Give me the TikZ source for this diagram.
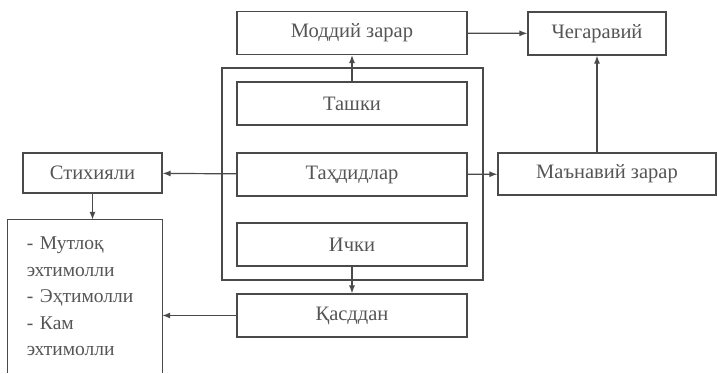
\documentclass[tikz,border=0pt]{standalone}
\usepackage{fontspec}
\setmainfont{Liberation Serif}
\usetikzlibrary{arrows.meta}
\definecolor{chiziq}{HTML}{4A4A4A}
\definecolor{matn}{HTML}{555555}
\tikzset{
  blok/.style={draw=chiziq, line width=1.2pt, text=matn, minimum height=43pt, inner sep=0pt,
    font=\fontsize{20.5}{24}\selectfont},
  strelka/.style={draw=chiziq, line width=1.2pt, -{Latex[length=8pt,width=6pt]}}
}
\begin{document}
\begin{tikzpicture}[x=1pt,y=-1pt]
    \useasboundingbox (0,0) rectangle (718,373);

    % tashqi ramka
    \node[draw=chiziq, line width=1.2pt, minimum width=261pt, minimum height=212pt] (ramka) at (352.5,174) {};

    % bloklar
    \node[blok, minimum width=230pt] (moddiy) at (352,33) {Моддий зарар};
    \node[blok, minimum width=138pt] (chegara) at (597,33.5) {Чегаравий};
    \node[blok, minimum width=230pt] (tashki) at (352,103.5) {Ташки};
    \node[blok, minimum width=230pt] (tahdid) at (352,174.5) {Таҳдидлар};
    \node[blok, minimum width=230pt] (ichki) at (352,244.5) {Ички};
    \node[blok, minimum width=230pt] (qasd) at (352,315.5) {Қасддан};
    \node[blok, minimum width=218pt, minimum height=42pt] (manaviy) at (607,174) {Маънавий зарар};
    \node[blok, minimum width=139pt, minimum height=40pt] (stixiya) at (92.5,173) {Стихияли};

    % ehtimollik ro'yxati
    \node[text=matn, minimum width=154pt, minimum height=153pt, inner xsep=19pt, text width=116pt,
          align=left, font=\fontsize{19.5}{26.5}\selectfont] (ehtimol) at (85,296.5)
          {- Мутлоқ\\эхтимолли\\- Эҳтимолли\\- Кам\\эхтимолли};
    \draw[chiziq, line width=1.2pt] (ehtimol.south west) -- (ehtimol.north west)
        -- (ehtimol.north east) -- (ehtimol.south east);

    % strelkalar
    \draw[strelka] (moddiy) -- (chegara);
    \draw[strelka] (tashki) -- (moddiy);
    \draw[strelka] (manaviy.north -| chegara.south) -- (chegara.south);
    \draw[strelka] (tahdid) -- (manaviy);
    \draw[strelka] (tahdid) -- (stixiya);
    \draw[strelka] (stixiya) -- (stixiya |- ehtimol.north);
    \draw[strelka] (ichki) -- (qasd);
    \draw[strelka] (qasd.west) -- (qasd.west -| ehtimol.east);
\end{tikzpicture}
\end{document}
